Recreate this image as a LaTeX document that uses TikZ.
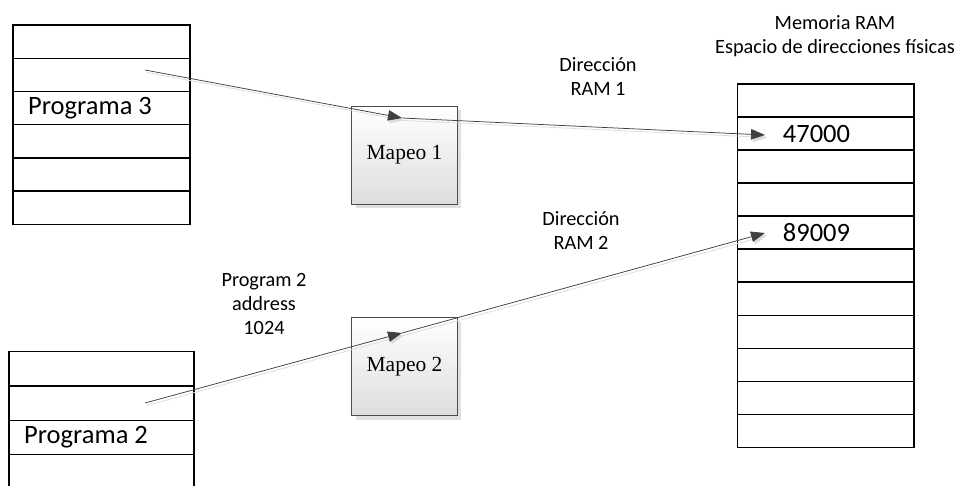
\documentclass[tikz,border=0pt]{standalone}
\usepackage{fontspec}
\setmainfont{Carlito}
\newfontfamily\mapfont{Liberation Serif}
\usetikzlibrary{arrows.meta,shadows}

\begin{document}
\begin{tikzpicture}[x=1pt,y=-1pt,
  cell/.style={draw=black, line width=1.4pt, minimum width=#1,
    minimum height=33.2pt, inner sep=0pt, outer sep=0pt, anchor=north west},
  bigtext/.style={font=\fontsize{26.5}{31}\selectfont, inner sep=0pt, anchor=west},
  smalltext/.style={font=\fontsize{20.3}{24}\selectfont, align=center, inner sep=0pt},
  mapbox/.style={draw=black!70, line width=0.8pt, top color=white,
    bottom color=black!13, minimum width=105.6pt, minimum height=98pt,
    font=\fontsize{21.5}{25}\mapfont,
    drop shadow={shadow xshift=4pt, shadow yshift=-4pt, fill=black!12, opacity=1}},
  link/.style={draw=black!75, line width=0.75pt,
    -{Triangle[length=14pt,width=10.5pt]}},
  linkshadow/.style={draw=black!14, line width=0.75pt,
    -{Triangle[length=14pt,width=10.5pt]},
    transform canvas={shift={(2pt,-2.5pt)}}},
]
\useasboundingbox (0,0) rectangle (966,485);
\clip (0,0) rectangle (966,485);

% program 3 page table
\foreach \i in {1,...,6}
  \node[cell=177pt] (p3r\i) at (13,{25+33.2*(\i-1)}) {};
\node[bigtext] (p3txt) at ([xshift=15pt]p3r3.west) {Programa 3};

% program 2 page table (runs past the lower edge)
\foreach \i in {1,...,4}
  \node[cell=185pt, minimum height=34.3pt] (p2r\i) at (9,{351.7+34.3*(\i-1)}) {};
\node[bigtext] (p2txt) at ([xshift=15pt]p2r3.west) {Programa 2};

% physical memory
\foreach \i in {1,...,11}
  \node[cell=176.3pt, minimum height=33.03pt] (ram\i) at (737.7,{84+33.03*(\i-1)}) {};
\node[bigtext] (v1) at ([xshift=45pt]ram2.west) {47000};
\node[bigtext] (v2) at ([xshift=45pt]ram5.west) {89009};

% mapping units
\node[mapbox] (map1) at (404.5,155) {Mapeo 1};
\node[mapbox] (map2) at (404.5,366.7) {Mapeo 2};

% labels
\node[smalltext] (ramtitle) at (835,36) {Memoria RAM\\Espacio de direcciones físicas};
\node[smalltext] (dir1) at (598,77) {Dirección\\RAM 1};
\node[smalltext] (dir2) at (581,231) {Dirección\\RAM 2};
\node[smalltext] (addr) at (264,304) {Program 2\\address\\1024};

% connector points
\coordinate (s1) at (145,70);
\coordinate (m1) at (402,118);
\coordinate (e1) at (765,135);
\coordinate (s2) at (145,403);
\coordinate (m2) at (402,333);
\coordinate (e2) at (765,233);

% connectors with their faint shadows
\draw[linkshadow] (s1) -- (m1);
\draw[linkshadow] (m1) -- (e1);
\draw[linkshadow] (s2) -- (m2);
\draw[linkshadow] (m2) -- (e2);
\draw[link] (s1) -- (m1);
\draw[link] (m1) -- (e1);
\draw[link] (s2) -- (m2);
\draw[link] (m2) -- (e2);
\end{tikzpicture}
\end{document}
